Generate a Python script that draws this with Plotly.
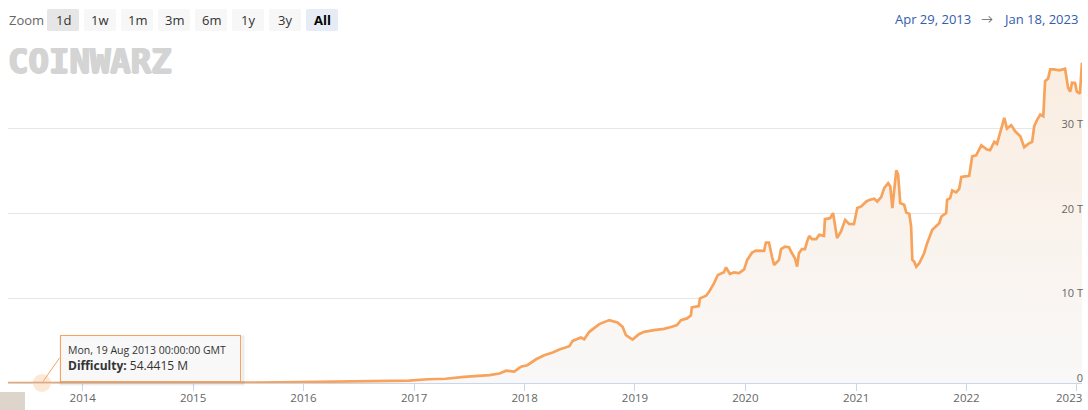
import plotly.graph_objects as go

# ---------------- data (difficulty in T = 1e12) ----------------
dates = [
    "2013-04-29", "2013-06-15", "2013-07-15", "2013-08-19", "2013-10-15", "2013-12-15",
    "2014-02-15", "2014-04-15", "2014-06-15", "2014-08-15", "2014-10-15", "2014-12-15",
    "2015-02-15", "2015-04-15", "2015-06-15", "2015-08-15", "2015-10-15", "2015-12-15",
    "2016-02-15", "2016-04-15", "2016-06-15", "2016-08-15", "2016-10-15", "2016-12-15",
    "2017-02-15", "2017-04-15", "2017-06-15", "2017-08-01", "2017-09-07", "2017-10-10",
    "2017-11-01", "2017-11-28", "2017-12-20",
    "2018-01-10", "2018-02-08", "2018-03-07", "2018-04-04", "2018-04-26", "2018-05-29",
    "2018-06-09", "2018-07-06", "2018-07-17", "2018-08-03", "2018-09-05", "2018-10-08",
    "2018-11-04", "2018-11-21", "2018-12-02", "2018-12-24",
    "2019-01-14", "2019-01-31", "2019-03-05", "2019-04-07", "2019-05-03", "2019-05-20",
    "2019-06-02", "2019-06-22", "2019-07-05", "2019-07-08", "2019-07-31", "2019-08-04",
    "2019-08-24", "2019-09-03", "2019-09-19", "2019-10-02", "2019-10-22", "2019-10-29",
    "2019-11-11", "2019-11-24", "2019-12-11", "2019-12-28",
    "2020-01-07", "2020-01-23", "2020-02-05", "2020-03-03", "2020-03-09", "2020-03-19",
    "2020-03-29", "2020-04-05", "2020-04-21", "2020-04-28", "2020-05-11", "2020-05-24",
    "2020-06-03", "2020-06-13", "2020-06-20", "2020-06-26", "2020-07-06", "2020-07-16",
    "2020-07-23", "2020-07-30", "2020-08-08", "2020-08-22", "2020-09-01", "2020-09-17",
    "2020-09-20", "2020-10-07", "2020-10-17", "2020-10-30", "2020-11-12", "2020-11-26",
    "2020-12-09", "2020-12-25",
    "2021-01-05", "2021-01-18", "2021-02-04", "2021-02-14", "2021-03-02", "2021-03-12",
    "2021-03-25", "2021-04-04", "2021-04-17", "2021-04-24", "2021-05-01", "2021-05-14",
    "2021-05-20", "2021-05-27", "2021-06-09", "2021-06-16", "2021-06-26", "2021-07-02",
    "2021-07-06", "2021-07-12", "2021-07-19", "2021-07-29", "2021-08-14", "2021-08-24",
    "2021-09-10", "2021-09-23", "2021-10-03", "2021-10-10", "2021-10-26", "2021-10-29",
    "2021-11-08", "2021-11-15", "2021-11-28", "2021-12-08", "2021-12-15", "2021-12-28",
    "2022-01-10", "2022-01-20", "2022-02-02", "2022-02-19", "2022-03-10", "2022-03-20",
    "2022-04-03", "2022-04-12", "2022-04-22", "2022-05-06", "2022-05-15", "2022-05-29",
    "2022-06-11", "2022-06-28", "2022-07-11", "2022-07-24", "2022-08-06", "2022-08-13",
    "2022-08-23", "2022-09-02", "2022-09-12", "2022-09-18", "2022-09-28", "2022-10-05",
    "2022-10-18", "2022-11-04", "2022-11-23", "2022-12-03", "2022-12-10", "2022-12-16",
    "2022-12-26", "2023-01-01", "2023-01-11", "2023-01-16", "2023-01-18",
]
difficulty_T = [
    0.00001008, 0.0000150, 0.0000310, 0.0000544, 0.000267, 0.000908,
    0.00279, 0.00605, 0.0118, 0.0199, 0.0351, 0.0402,
    0.0440, 0.0474, 0.0492, 0.0522, 0.0624, 0.1035,
    0.1441, 0.1781, 0.1999, 0.2253, 0.2535, 0.2868,
    0.4407, 0.5035, 0.7115, 0.8607, 0.92, 1.12,
    1.45, 1.35, 1.93,
    2.1, 2.8, 3.28, 3.6, 3.95, 4.34,
    4.97, 5.37, 5.17, 6.04, 6.95, 7.42,
    7.15, 6.63, 5.64, 5.13,
    5.76, 6.04, 6.24, 6.39, 6.63, 6.83,
    7.42, 7.62, 8.0, 8.92, 9.08, 9.99,
    10.3, 10.77, 11.76, 12.75, 13.06, 13.65,
    12.86, 13.06, 12.98, 13.4,
    14.52, 15.38, 15.62, 15.6, 16.57, 16.57,
    14.9, 13.93, 14.52, 15.79, 16.1, 16.02,
    15.31, 14.72, 13.73, 15.3, 15.79, 15.8,
    16.69, 17.36, 16.97, 16.97, 17.48, 17.36,
    19.34, 19.45, 20.05, 17.09, 17.87, 19.25,
    18.78, 18.74,
    20.64, 20.83, 21.42, 21.6, 21.74, 21.42,
    21.94, 23.0, 23.6, 23.2, 20.64, 25.09,
    24.58, 21.23, 21.03, 20.12, 19.96, 18.46,
    14.52, 14.32, 13.73, 14.13, 15.31, 16.5,
    18.07, 18.46, 18.86, 19.65, 20.05, 21.62,
    21.82, 22.72, 22.49, 22.89, 24.31, 24.38,
    24.45, 26.75, 26.86, 28.05, 27.54, 27.46,
    28.45, 28.21, 29.51, 31.29, 30.02, 30.41,
    29.7, 29.11, 27.81, 28.21, 28.45, 30.3,
    31.09, 31.68, 31.48, 35.62, 35.94, 37.0,
    37.0, 36.89, 37.09, 34.84, 34.37, 35.43,
    35.4, 34.37, 34.13, 37.6, 37.8,
]

x_range = ["2013-04-29", "2023-01-18"]
x_tick_vals = ["2014-01-01", "2015-01-01", "2016-01-01", "2017-01-01", "2018-01-01",
               "2019-01-01", "2020-01-01", "2021-01-01", "2022-01-01", "2023-01-01"]
x_tick_text = ["2014", "2015", "2016", "2017", "2018",
               "2019", "2020", "2021", "2022", "2023"]
y_tick_vals = [0, 10, 20, 30, 40]
y_tick_text = ["0", "10 T", "20 T", "30 T", ""]

zoom_buttons = ["1d", "1w", "1m", "3m", "6m", "1y", "3y", "All"]
range_start_label = "Apr 29, 2013"
range_end_label = "Jan 18, 2023"

tooltip_date = "Mon, 19 Aug 2013 00:00:00 GMT"
tooltip_x = "2013-08-19"
tooltip_value = 0.0000544
tooltip_value_text = "54.4415 M"

# ---------------- layout helpers ----------------
W, H = 1088, 410
ML, MR, MT, MB = 8, 6, 44, 27
PW, PH = W - ML - MR, H - MT - MB


def px(x):
    return (x - ML) / PW


def py(y):
    return (H - MB - y) / PH


def rrect(x0, y0, x1, y1, r=2):
    rx, ry = r / PW, r / PH
    a, b, c, d = px(x0), px(x1), py(y0), py(y1)  # c top (higher), d bottom
    return (f"M {a+rx},{c} L {b-rx},{c} Q {b},{c} {b},{c-ry} L {b},{d+ry} "
            f"Q {b},{d} {b-rx},{d} L {a+rx},{d} Q {a},{d} {a},{d+ry} "
            f"L {a},{c-ry} Q {a},{c} {a+rx},{c} Z")


FONT = "Open Sans, Lato, sans-serif"
LINE = "#f7a35c"
TICKFONT = dict(family=FONT, size=11.5, color="#666666")

fig = go.Figure()
fig.add_trace(go.Scatter(
    x=dates, y=difficulty_T, mode="lines", name="Difficulty",
    line=dict(color=LINE, width=2.7),
    fill="tozeroy",
    fillgradient=dict(type="vertical",
                      colorscale=[[0, "rgb(249,248,248)"], [1, "rgb(250,237,224)"]]),
    hoverinfo="skip",
))
fig.add_trace(go.Scatter(
    x=[tooltip_x], y=[tooltip_value], mode="markers",
    marker=dict(size=18, color="rgba(247,163,92,0.25)", line=dict(width=0)),
    cliponaxis=False, hoverinfo="skip", showlegend=False,
))

shapes = []
annotations = []

# zoom buttons
annotations.append(dict(text="Zoom", x=px(7), y=py(20), xref="paper", yref="paper",
                        xanchor="left", yanchor="middle", showarrow=False,
                        font=dict(family=FONT, size=13, color="#666666")))
for i, lab in enumerate(zoom_buttons):
    x0 = 47 + 37 * i
    fill = "#f7f7f7"
    if lab == "1d":
        fill = "#e6e6e6"
    if lab == "All":
        fill = "#e6ebf5"
    shapes.append(dict(type="path", path=rrect(x0, 9, x0 + 32, 31), xref="paper", yref="paper",
                       fillcolor=fill, line=dict(width=0), layer="above"))
    annotations.append(dict(text=f"<b>{lab}</b>" if lab == "All" else lab,
                            x=px(x0 + 16), y=py(20), xref="paper", yref="paper",
                            xanchor="center", yanchor="middle", showarrow=False,
                            font=dict(family=FONT, size=13,
                                      color="#000000" if lab == "All" else "#333333")))

# date range display
annotations.append(dict(text=range_start_label, x=px(893), y=py(19), xref="paper", yref="paper",
                        xanchor="left", yanchor="middle", showarrow=False,
                        font=dict(family=FONT, size=13, color="#335cad")))
annotations.append(dict(text="→", x=px(987), y=py(19), xref="paper", yref="paper",
                        xanchor="center", yanchor="middle", showarrow=False,
                        font=dict(family=FONT, size=12, color="#666666")))
annotations.append(dict(text=range_end_label, x=px(1001), y=py(19), xref="paper", yref="paper",
                        xanchor="left", yanchor="middle", showarrow=False,
                        font=dict(family=FONT, size=13, color="#335cad")))

# last year label, justified left so it stays inside the chart (as in the original)
annotations.append(dict(text=x_tick_text[-1], x=x_tick_vals[-1], xref="x", xshift=-8,
                        y=py(397), yref="paper", xanchor="center", yanchor="middle",
                        showarrow=False, font=TICKFONT))

# watermark logo
annotations.append(dict(text="<b>COINWARZ</b>", x=px(6), y=py(61), xref="paper", yref="paper",
                        xanchor="left", yanchor="middle", showarrow=False,
                        font=dict(family="DejaVu Sans Mono", size=34, color="#d4d4d4",
                                  shadow="1px 0 0 #d4d4d4, -1px 0 0 #d4d4d4, 0 1px 0 #d4d4d4")))

# navigator handle fragment
shapes.append(dict(type="rect", x0=px(0), x1=px(25), y0=py(410), y1=py(392),
                   xref="paper", yref="paper", fillcolor="#ddd4cb", line=dict(width=0)))

# tooltip
shapes.append(dict(type="rect", x0=px(61), x1=px(243), y0=py(384), y1=py(337),
                   xref="paper", yref="paper", fillcolor="rgba(0,0,0,0)",
                   line=dict(color="rgba(0,0,0,0.07)", width=3), layer="above"))
shapes.append(dict(type="line", x0=px(59.5), y0=py(358), x1=px(43), y1=py(381.5),
                   xref="paper", yref="paper", line=dict(color=LINE, width=1), layer="above"))
annotations.append(dict(
    text=(f"<span style='font-size:10.5px'>{tooltip_date}</span><br>"
          f"<b>Difficulty:</b> {tooltip_value_text}"),
    x=px(60), y=py(335), xref="paper", yref="paper", xanchor="left", yanchor="top",
    showarrow=False, align="left", valign="middle", width=165, height=31,
    bgcolor="rgba(247,247,247,0.92)", bordercolor=LINE, borderwidth=1, borderpad=7,
    font=dict(family=FONT, size=12, color="#333333"),
))

fig.update_layout(
    width=W, height=H,
    margin=dict(l=ML, r=MR, t=MT, b=MB, autoexpand=False),
    paper_bgcolor="white", plot_bgcolor="white",
    showlegend=False,
    font=dict(family=FONT, color="#666666"),
    shapes=shapes, annotations=annotations,
    xaxis=dict(
        type="date", range=x_range,
        tickvals=x_tick_vals, ticktext=x_tick_text[:-1] + [""],
        automargin=False, ticklabelstandoff=-3,
        showgrid=False, zeroline=False,
        showline=True, linecolor="#ccd6eb", linewidth=1,
        ticks="outside", ticklen=7, tickcolor="#ccd6eb", tickwidth=1,
        tickfont=TICKFONT, fixedrange=True,
    ),
    yaxis=dict(
        range=[0, 40], side="right", automargin=False,
        tickvals=y_tick_vals, ticktext=y_tick_text,
        ticklabelposition="inside top", ticks="",
        ticklabelstandoff=-4, ticklabelshift=3, ticklabeloverflow="allow",
        showgrid=True, gridcolor="#e6e6e6", gridwidth=1,
        zeroline=False, showline=False,
        tickfont=dict(family=FONT, size=11, color="#666666"),
        fixedrange=True,
    ),
)

fig.write_html("out.html", post_script="document.body.style.margin='0';",
               config={"displayModeBar": False})
